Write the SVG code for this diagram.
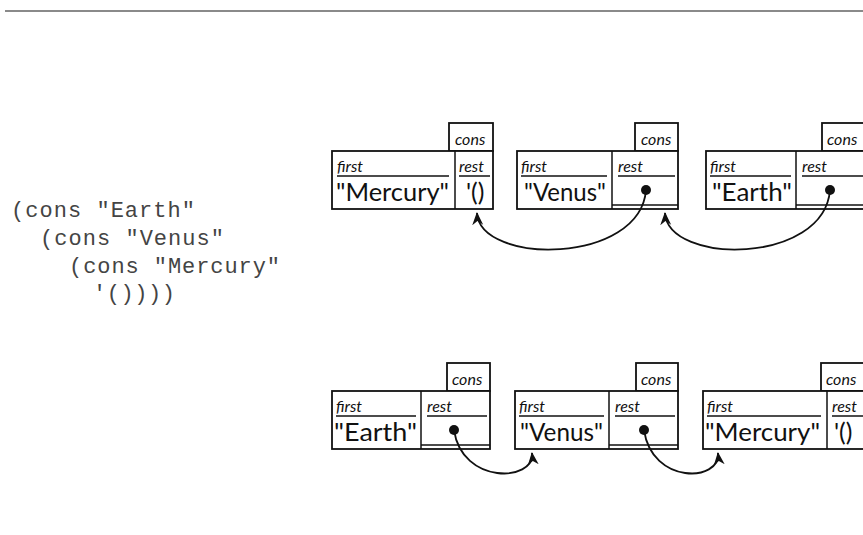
<svg xmlns="http://www.w3.org/2000/svg" width="863" height="535" viewBox="0 0 863 535">
<style>
.box{fill:#fff;stroke:#111;stroke-width:1.8}
.ln{stroke:#111;stroke-width:1.5;fill:none}
.lbl{font-family:Lato,"Open Sans",sans-serif;font-style:italic;font-size:16px;fill:#111}
.big{font-family:Lato,"Open Sans",sans-serif;font-size:25px;fill:#111}
.code{font-family:"Liberation Mono",monospace;font-size:22px;fill:#444}
.dot{fill:#111}
.arr{stroke:#111;stroke-width:1.8;fill:none;marker-end:url(#ah)}
</style>
<defs>
<marker id="ah" markerUnits="userSpaceOnUse" markerWidth="13" markerHeight="12" refX="12" refY="5.5" orient="auto" viewBox="0 0 13 11">
<path d="M0,0 L13,5.5 L0,11 L4,5.5 Z" fill="#111"/>
</marker>
</defs>
<line x1="5" y1="11" x2="863" y2="11" stroke="#8a8a8a" stroke-width="1.8"/>
<g id="code">
<text class="code" x="11" y="217" textLength="184" lengthAdjust="spacing">(cons "Earth"</text>
<text class="code" x="40" y="245" textLength="184" lengthAdjust="spacing">(cons "Venus"</text>
<text class="code" x="69" y="273" textLength="211" lengthAdjust="spacing">(cons "Mercury"</text>
<text class="code" x="93" y="300" textLength="82" lengthAdjust="spacing">'())))</text>
</g>
<!-- top row -->
<g id="top-mercury">
<rect class="box" x="449" y="123" width="44" height="28"/>
<text class="lbl" x="455" y="145">cons</text>
<rect class="box" x="332" y="151" width="161" height="58"/>
<line class="ln" x1="455" y1="151" x2="455" y2="209"/>
<text class="lbl" x="337" y="172">first</text>
<line class="ln" x1="337" y1="176" x2="449" y2="176"/>
<text class="lbl" x="459" y="172">rest</text>
<line class="ln" x1="459" y1="176" x2="490" y2="176"/>
<text class="big" x="336" y="201" textLength="113" lengthAdjust="spacingAndGlyphs">"Mercury"</text>
<text class="big" x="466" y="201">'()</text>
</g>
<g id="top-venus">
<rect class="box" x="635" y="123" width="43" height="28"/>
<text class="lbl" x="641" y="145">cons</text>
<rect class="box" x="517" y="151" width="161" height="58"/>
<line class="ln" x1="612" y1="151" x2="612" y2="209"/>
<line class="ln" x1="612" y1="205" x2="678" y2="205"/>
<text class="lbl" x="521" y="172">first</text>
<line class="ln" x1="521" y1="176" x2="607" y2="176"/>
<text class="lbl" x="618" y="172">rest</text>
<line class="ln" x1="618" y1="176" x2="675" y2="176"/>
<text class="big" x="524" y="201" textLength="82" lengthAdjust="spacingAndGlyphs">"Venus"</text>
<circle class="dot" cx="646" cy="190" r="5"/>
</g>
<g id="top-earth">
<rect class="box" x="822" y="123" width="44" height="28"/>
<text class="lbl" x="827" y="145">cons</text>
<rect class="box" x="706" y="151" width="160" height="58"/>
<line class="ln" x1="796" y1="151" x2="796" y2="209"/>
<line class="ln" x1="796" y1="205" x2="866" y2="205"/>
<text class="lbl" x="710" y="172">first</text>
<line class="ln" x1="710" y1="176" x2="791" y2="176"/>
<text class="lbl" x="802" y="172">rest</text>
<line class="ln" x1="802" y1="176" x2="866" y2="176"/>
<text class="big" x="712" y="201" textLength="80" lengthAdjust="spacingAndGlyphs">"Earth"</text>
<circle class="dot" cx="830" cy="190" r="5"/>
</g>
<!-- bottom row -->
<g id="bottom-earth">
<rect class="box" x="447" y="363" width="43" height="28"/>
<text class="lbl" x="452" y="385">cons</text>
<rect class="box" x="332" y="391" width="158" height="58"/>
<line class="ln" x1="421" y1="391" x2="421" y2="449"/>
<line class="ln" x1="421" y1="445" x2="490" y2="445"/>
<text class="lbl" x="336" y="412">first</text>
<line class="ln" x1="336" y1="416" x2="416" y2="416"/>
<text class="lbl" x="427" y="412">rest</text>
<line class="ln" x1="427" y1="416" x2="487" y2="416"/>
<text class="big" x="334" y="441" textLength="83" lengthAdjust="spacingAndGlyphs">"Earth"</text>
<circle class="dot" cx="454" cy="430" r="5"/>
</g>
<g id="bottom-venus">
<rect class="box" x="636" y="363" width="42" height="28"/>
<text class="lbl" x="641" y="385">cons</text>
<rect class="box" x="515" y="391" width="163" height="58"/>
<line class="ln" x1="609" y1="391" x2="609" y2="449"/>
<line class="ln" x1="609" y1="445" x2="678" y2="445"/>
<text class="lbl" x="519" y="412">first</text>
<line class="ln" x1="519" y1="416" x2="604" y2="416"/>
<text class="lbl" x="615" y="412">rest</text>
<line class="ln" x1="615" y1="416" x2="675" y2="416"/>
<text class="big" x="520" y="441" textLength="83" lengthAdjust="spacingAndGlyphs">"Venus"</text>
<circle class="dot" cx="644" cy="430" r="5"/>
</g>
<g id="bottom-mercury">
<rect class="box" x="821" y="363" width="45" height="28"/>
<text class="lbl" x="826" y="385">cons</text>
<rect class="box" x="703" y="391" width="163" height="58"/>
<line class="ln" x1="827" y1="391" x2="827" y2="449"/>
<text class="lbl" x="707" y="412">first</text>
<line class="ln" x1="707" y1="416" x2="821" y2="416"/>
<text class="lbl" x="832" y="412">rest</text>
<line class="ln" x1="832" y1="416" x2="866" y2="416"/>
<text class="big" x="705" y="441" textLength="115" lengthAdjust="spacingAndGlyphs">"Mercury"</text>
<text class="big" x="834" y="441">'()</text>
</g>
<g id="connectors">
<path class="arr" d="M646,190 C640,265 480,265 477,213"/>
<path class="arr" d="M830,190 C824,265 668,265 665,213"/>
<path class="arr" d="M454,430 C462,485 535,482 532,453"/>
<path class="arr" d="M644,430 C652,485 721,482 718,453"/>
</g>
</svg>
